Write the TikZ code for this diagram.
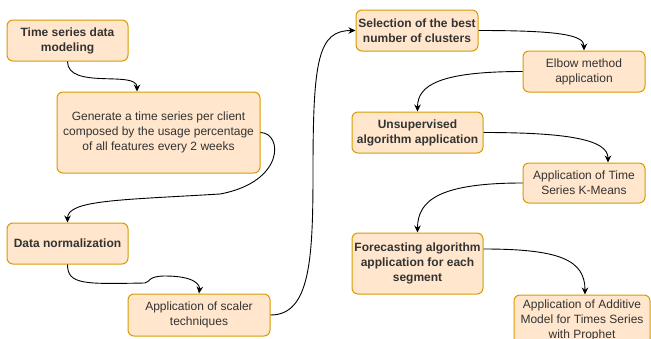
\documentclass[tikz,border=0pt]{standalone}
\usepackage{fontspec}
\setmainfont{Liberation Sans}
\usepackage{tikz}
\usetikzlibrary{arrows.meta}
\definecolor{boxfill}{HTML}{FFE6CC}
\definecolor{boxline}{HTML}{D79B00}
\definecolor{boxtext}{HTML}{333333}
\tikzset{
  task/.style  ={draw=boxline, fill=boxfill, rounded corners=6pt, line width=1pt, inner sep=0pt,
                 align=center, text=boxtext, font=\fontsize{12}{15}\selectfont},
  taskb/.style ={task, font=\fontsize{12}{15}\selectfont\bfseries},
  flow/.style  ={-{Stealth[length=7pt, width=6.5pt]}, line width=0.9pt, black},
}
\begin{document}
\begin{tikzpicture}[x=1pt, y=-1pt]
  \useasboundingbox (0,0) rectangle (651,338);
  \node[taskb, minimum width=121pt, minimum height=41pt] (model) at (67.5,40.5) {Time series data\\modeling};
  \node[task, minimum width=203pt, minimum height=81pt] (gen) at (158.5,132.5)
    {Generate a time series per client\\composed by the usage percentage\\of all features every 2 weeks};
  \node[taskb, minimum width=121pt, minimum height=41pt] (norm) at (67.5,243.5) {Data normalization};
  \node[task, minimum width=142pt, minimum height=42pt] (scal) at (199,315) {Application of scaler\\techniques};
  \node[taskb, minimum width=122pt, minimum height=41pt] (sel) at (417,30.5) {Selection of the best\\number of clusters};
  \node[task, minimum width=122pt, minimum height=41pt] (elbow) at (584,71.5) {Elbow method\\application};
  \node[taskb, minimum width=131pt, minimum height=41pt] (unsup) at (417.5,132.5) {Unsupervised\\algorithm application};
  \node[task, minimum width=122pt, minimum height=40pt] (kmeans) at (584,183) {Application of Time\\Series K-Means};
  \node[taskb, minimum width=131pt, minimum height=61pt] (fore) at (417.5,263.5)
    {Forecasting algorithm\\application for each\\segment};
  \node[task, minimum width=136pt, minimum height=50pt] (prophet) at (582,320)
    {Application of Additive\\Model for Times Series\\with Prophet};

  \draw[flow] (model.south) .. controls (67.5,90) and (137,70) .. ([xshift=-21.5pt]gen.north);
  \draw[flow] (gen.east) .. controls (283,133) and (285,182) .. (220,194)
    .. controls (120,200) and (67.5,200) .. (norm.north);
  \draw[flow] (norm.south) .. controls (67.5,285) and (85,284) .. (145,283)
    .. controls (150,282) and (148,276) .. (165,276)
    .. controls (195,276) and (200,285) .. (scal.north);
  \draw[flow] (scal.east) .. controls (310,315) and (313,260) .. (313,172)
    .. controls (313,60) and (318,30.5) .. (sel.west);
  \draw[flow] (sel.east) .. controls (560,30.5) and (584,35) .. (elbow.north);
  \draw[flow] (elbow.west) .. controls (440,71.5) and (417.5,85) .. (unsup.north);
  \draw[flow] (unsup.east) .. controls (570,132.5) and (608,140) .. ([xshift=24pt]kmeans.north);
  \draw[flow] (kmeans.west) .. controls (440,183) and (417.5,200) .. (fore.north);
  \draw[flow] ([yshift=14.5pt]fore.east) .. controls (560,249) and (585,260) .. ([xshift=3pt]prophet.north);
\end{tikzpicture}
\end{document}
